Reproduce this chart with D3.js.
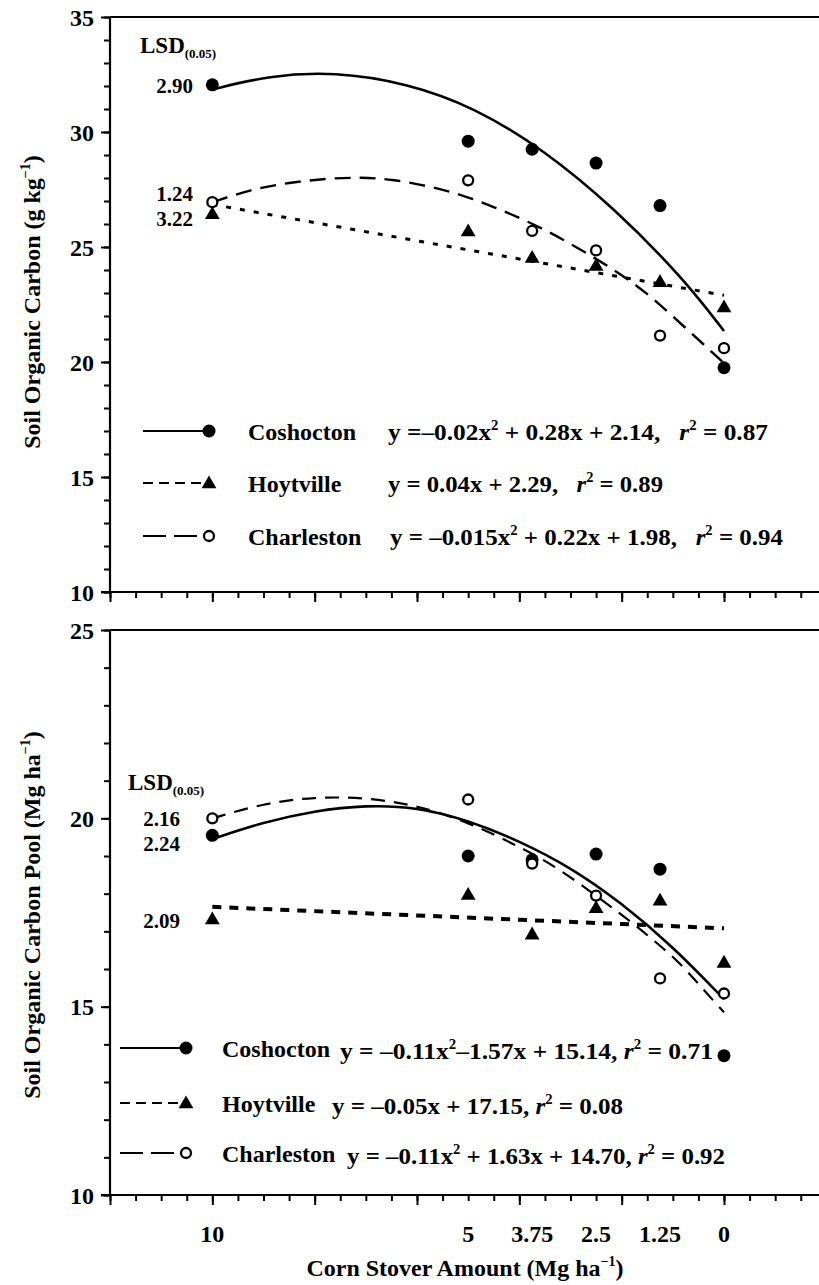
<!DOCTYPE html>
<html>
<head>
<meta charset="utf-8">
<script src="https://cdn.jsdelivr.net/npm/d3@7"></script>
<style>
  body { margin: 0; background: #fff; }
  svg { display: block; }
  text { font-family: "Liberation Serif", "Times New Roman", serif; font-weight: bold; fill: #000; white-space: pre; }
</style>
</head>
<body>
<div id="chart"></div>
<script>
// corn stover amounts (Mg/ha) and the labels under the lower axis
const stover = [10, 5, 3.75, 2.5, 1.25, 0];
const xTickLabels = ["10", "5", "3.75", "2.5", "1.25", "0"];

// top panel: soil organic carbon (g/kg)
const socCoshocton = [32.05, 29.6, 29.25, 28.65, 26.8, 19.75];
const socHoytville = [26.4, 25.65, 24.5, 24.15, 23.45, 22.35];
const socCharleston = [26.95, 27.9, 25.7, 24.85, 21.15, 20.6];

// regression curves, [stover, value]
const socFitCoshocton = [[10, 31.85], [8.9, 32.45], [7.6, 32.62], [6.2, 32.12], [4.9, 31.1], [3.5, 29.2], [2.15, 26.7], [0.8, 23.65], [0, 21.35]];
const socFitHoytville = [[10, 26.85], [0, 22.9]];
const socFitCharleston = [[10, 26.95], [9.25, 27.5], [8.5, 27.8], [7.75, 27.98], [7.1, 28.03], [6.5, 27.95], [5.8, 27.66], [5.15, 27.3], [4.45, 26.7], [3.85, 26.13], [3.1, 25.3], [1.8, 23.55], [1.15, 22.3], [0, 19.95]];

// bottom panel: soil organic carbon pool (Mg/ha)
const poolCoshocton = [19.55, 19.0, 18.9, 19.05, 18.65, 13.7];
const poolHoytville = [17.3, 17.95, 16.9, 17.6, 17.8, 16.15];
const poolCharleston = [20.0, 20.5, 18.8, 17.95, 15.75, 15.35];

const poolFitCoshocton = [[10, 19.45], [9, 19.9], [8, 20.2], [7, 20.35], [6, 20.3], [5, 19.95], [4, 19.4], [3, 18.7], [2, 17.75], [1, 16.6], [0, 15.2]];
const poolFitHoytville = [[10, 17.65], [0, 17.08]];
const poolFitCharleston = [[10, 20.0], [9, 20.4], [8, 20.57], [7, 20.55], [6, 20.35], [5, 19.9], [4, 19.25], [3.25, 18.7], [2, 17.45], [1.35, 16.74], [0.85, 16.15], [0.4, 15.45], [0, 14.85]];

const sites = ["Coshocton", "Hoytville", "Charleston"];

// equations, split into pieces so that exponents and r can be styled
const socEquations = [
    [["y =\u20130.02x"], ["2", "sup"], [" + 0.28x + 2.14,   "], ["r", "it"], ["2", "sup"], [" = 0.87"]],
    [["y = 0.04x + 2.29,   "], ["r", "it"], ["2", "sup"], [" = 0.89"]],
    [["y = \u20130.015x"], ["2", "sup"], [" + 0.22x + 1.98,   "], ["r", "it"], ["2", "sup"], [" = 0.94"]]
];
const poolEquations = [
    [["y = \u20130.11x"], ["2", "sup"], ["\u20131.57x + 15.14, "], ["r", "it"], ["2", "sup"], [" = 0.71"]],
    [["y = \u20130.05x + 17.15, "], ["r", "it"], ["2", "sup"], [" = 0.08"]],
    [["y = \u20130.11x"], ["2", "sup"], [" + 1.63x + 14.70, "], ["r", "it"], ["2", "sup"], [" = 0.92"]]
];

const socLsd = ["2.90", "1.24", "3.22"];
const poolLsd = ["2.16", "2.24", "2.09"];

const socTicks = [10, 15, 20, 25, 30, 35];
const poolTicks = [10, 15, 20, 25];

var width = 819, height = 1285;
var plotLeft = 110, plotRight = 819;

var svg = d3.select('#chart')
    .append('svg')
    .attr('width', width)
    .attr('height', height);

// x runs from 12 on the left down to 0, and on past the right edge
var x = d3.scaleLinear()
    .domain([12, 0])
    .range([plotLeft, 724]);

var panel = function(cfg) {
    var y = d3.scaleLinear()
        .domain(cfg.domain)
        .range([cfg.bottom, cfg.top]);

    var g = svg.append('g');

    // frame lines
    g.append('line')
        .attr('x1', plotLeft).attr('x2', plotRight)
        .attr('y1', cfg.top).attr('y2', cfg.top);
    g.append('line')
        .attr('x1', plotLeft).attr('x2', plotLeft)
        .attr('y1', cfg.top).attr('y2', cfg.bottom);
    g.append('line')
        .attr('x1', plotLeft - 9).attr('x2', plotRight)
        .attr('y1', cfg.bottom).attr('y2', cfg.bottom);
    g.selectAll('line').attr('stroke', '#000').attr('stroke-width', 2.2);

    // y ticks
    g.append('g')
        .attr('transform', `translate(${plotLeft},0)`)
        .call(d3.axisLeft(y).tickValues(d3.range(cfg.domain[0], cfg.domain[1] + 0.01, 1)).tickSize(6).tickFormat(''))
        .call(a => a.select('.domain').remove());
    var yMajor = g.append('g')
        .attr('transform', `translate(${plotLeft},0)`)
        .call(d3.axisLeft(y).tickValues(cfg.yTicks).tickSize(9).tickPadding(7))
        .call(a => a.select('.domain').remove());
    yMajor.selectAll('text').style('font-size', '24px').attr('dy', '0.34em');

    // x ticks
    g.append('g')
        .attr('transform', `translate(0,${cfg.bottom})`)
        .call(d3.axisBottom(x).tickValues(d3.range(-1.5, 12.01, 0.5)).tickSize(6).tickFormat(''))
        .call(a => a.select('.domain').remove());
    g.append('g')
        .attr('transform', `translate(0,${cfg.bottom})`)
        .call(d3.axisBottom(x).tickValues(d3.range(0, 12.01, 2)).tickSize(10).tickFormat(''))
        .call(a => a.select('.domain').remove());
    g.selectAll('.tick line').attr('stroke', '#000').attr('stroke-width', 2);

    // fitted curves
    var line = d3.line()
        .x(d => x(d[0]))
        .y(d => y(d[1]))
        .curve(d3.curveBasis);
    cfg.fits.forEach(function(f, i) {
        g.append('path')
            .attr('d', line(f))
            .attr('fill', 'none')
            .attr('stroke', '#000')
            .attr('stroke-width', cfg.lineWidths[i])
            .attr('stroke-dasharray', cfg.dashes[i]);
    });

    // observed points
    var marker = function(sel, i) {
        if (i == 0) {
            sel.append('circle').attr('r', 6.5).attr('fill', '#000');
        } else if (i == 1) {
            sel.append('path').attr('d', d3.symbol().type(d3.symbolTriangle).size(95)()).attr('fill', '#000');
        } else {
            sel.append('circle').attr('r', 5).attr('fill', '#fff').attr('stroke', '#000').attr('stroke-width', 2.3);
        }
    };
    cfg.series.forEach(function(vals, i) {
        g.selectAll()
            .data(vals)
            .enter()
            .append('g')
            .attr('transform', (d, j) => `translate(${x(stover[j])},${y(d)})`)
            .each(function() { marker(d3.select(this), i); });
    });

    // LSD annotation
    var lsd = g.append('text')
        .attr('x', cfg.lsdX)
        .attr('y', cfg.lsdY)
        .style('font-size', '23px');
    lsd.append('tspan').text('LSD');
    lsd.append('tspan').text('(0.05)').style('font-size', '13px').attr('dy', 5);
    cfg.lsd.forEach(function(t, i) {
        g.append('text')
            .attr('x', cfg.lsdValX)
            .attr('y', cfg.lsdValY[i])
            .attr('text-anchor', 'end')
            .style('font-size', '21px')
            .text(t);
    });

    // legend
    sites.forEach(function(s, i) {
        var ly = cfg.legendY[i];
        g.append('line')
            .attr('x1', cfg.legendX).attr('x2', cfg.legendX + 60)
            .attr('y1', ly).attr('y2', ly)
            .attr('stroke', '#000')
            .attr('stroke-width', 2)
            .attr('stroke-dasharray', cfg.legendDashes[i]);
        var m = g.append('g').attr('transform', `translate(${cfg.legendX + 66},${ly + (i == 1 ? 1 : 0)})`);
        marker(m, i);
        g.append('text')
            .attr('x', cfg.nameX)
            .attr('y', ly + 9)
            .style('font-size', '24px')
            .text(s);
        var eq = g.append('text')
            .attr('x', cfg.eqX[i])
            .attr('y', ly + cfg.eqDy)
            .attr('textLength', cfg.eqLen[i])
            .attr('lengthAdjust', 'spacingAndGlyphs')
            .style('font-size', '24px');
        var prevSup = false;
        cfg.equations[i].forEach(function(p) {
            var ts = eq.append('tspan').text(p[0]);
            if (p[1] == 'sup') {
                ts.style('font-size', '14px').attr('dy', -10);
            } else {
                if (prevSup) ts.attr('dy', 10);
                if (p[1] == 'it') ts.style('font-style', 'italic');
            }
            prevSup = (p[1] == 'sup');
        });
    });

    // y axis title
    var title = g.append('text')
        .attr('transform', `translate(${cfg.titleX},${cfg.titleY}) rotate(-90)`)
        .attr('text-anchor', 'middle')
        .style('font-size', '24px');
    title.append('tspan').text(cfg.title);
    title.append('tspan').text('\u22121').style('font-size', '14px').attr('dy', -10);
    title.append('tspan').text(')').attr('dy', 10);

    return y;
};

panel({
    domain: [10, 35], top: 17, bottom: 592, yTicks: socTicks,
    series: [socCoshocton, socHoytville, socCharleston],
    fits: [socFitCoshocton, socFitHoytville, socFitCharleston],
    lineWidths: [2.6, 3, 2.4],
    dashes: ['none', '5,9', '16,9'],
    lsd: socLsd, lsdX: 140, lsdY: 53, lsdValX: 193, lsdValY: [93, 201, 226],
    legendX: 143, legendY: [431, 483, 536], legendDashes: ['none', '10,6', '23,8'],
    nameX: 248, eqX: [388, 388, 390], eqLen: [380, 275, 393], eqDy: 9,
    equations: socEquations,
    title: 'Soil Organic Carbon (g kg', titleX: 40, titleY: 302
});

panel({
    domain: [10, 25], top: 630, bottom: 1195, yTicks: poolTicks,
    series: [poolCoshocton, poolHoytville, poolCharleston],
    fits: [poolFitCoshocton, poolFitHoytville, poolFitCharleston],
    lineWidths: [2.6, 4, 2.2],
    dashes: ['none', '9,8', '14,9'],
    lsd: poolLsd, lsdX: 128, lsdY: 790, lsdValX: 180, lsdValY: [826, 851, 928],
    legendX: 120, legendY: [1048, 1103, 1153], legendDashes: ['none', '10,6', '23,8'],
    nameX: 222, eqX: [340, 332, 347], eqLen: [373, 291, 378], eqDy: 11,
    equations: poolEquations,
    title: 'Soil Organic Carbon Pool (Mg ha', titleX: 40, titleY: 915
});

// x tick labels under the lower panel
svg.selectAll()
    .data(stover)
    .enter()
    .append('text')
    .attr('x', d => x(d))
    .attr('y', 1242)
    .attr('text-anchor', 'middle')
    .style('font-size', '24px')
    .text((d, i) => xTickLabels[i]);

// x axis title
var xt = svg.append('text')
    .attr('x', 465)
    .attr('y', 1276)
    .attr('text-anchor', 'middle')
    .style('font-size', '24px');
xt.append('tspan').text('Corn Stover Amount (Mg ha');
xt.append('tspan').text('\u22121').style('font-size', '14px').attr('dy', -10);
xt.append('tspan').text(')').attr('dy', 10);
</script>
</body>
</html>
